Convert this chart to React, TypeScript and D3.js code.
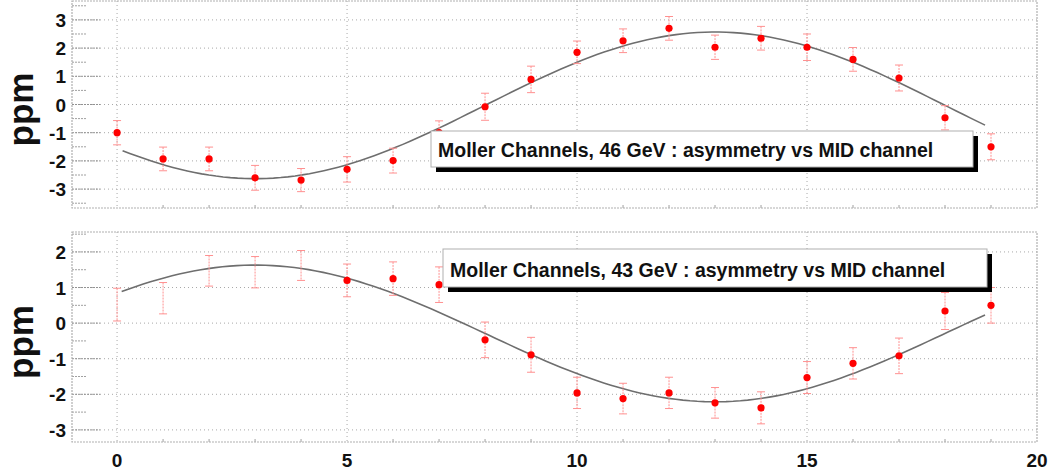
import React from "react";
import * as d3 from "d3";

// Channel numbers (x) shared by both panels
const channels = [0, 1, 2, 3, 4, 5, 6, 7, 8, 9, 10, 11, 12, 13, 14, 15, 16, 17, 18, 19];

// 46 GeV asymmetry per MID channel (ppm) and errors
const asym46 = [-1.0, -1.93, -1.93, -2.6, -2.68, -2.3, -1.99, -1.0, -0.08, 0.89, 1.85, 2.26, 2.7, 2.03, 2.35, 2.03, 1.6, 0.94, -0.47, -1.5];
const err46 = [0.43, 0.42, 0.42, 0.44, 0.41, 0.45, 0.44, 0.42, 0.48, 0.47, 0.4, 0.42, 0.42, 0.43, 0.42, 0.47, 0.42, 0.46, 0.43, 0.46];

// 43 GeV asymmetry per MID channel (ppm) and errors
const asym43 = [0.52, 0.7, 1.47, 1.43, 1.62, 1.2, 1.25, 1.08, -0.47, -0.89, -1.96, -2.12, -1.96, -2.24, -2.38, -1.53, -1.13, -0.92, 0.34, 0.5];
const err43 = [0.46, 0.44, 0.43, 0.44, 0.42, 0.46, 0.47, 0.5, 0.5, 0.49, 0.44, 0.43, 0.44, 0.43, 0.45, 0.45, 0.44, 0.5, 0.52, 0.5];
// channels whose marker is not drawn (only the error bar shows)
const noMarker43 = [0, 1, 2, 3, 4];

// Sine fits: f(x) = offset + amp * cos(2*pi*(x - peak)/period)
const fit46 = { offset: -0.03, amp: -2.6, peak: 3.0, period: 20, from: 0.12, to: 18.87 };
const fit43 = { offset: -0.29, amp: 1.92, peak: 3.0, period: 20, from: 0.1, to: 18.87 };

const xTicks = [0, 5, 10, 15, 20];
const yTicks46 = [-3, -2, -1, 0, 1, 2, 3];
const yTicks43 = [-3, -2, -1, 0, 1, 2];

const title46 = "Moller Channels, 46 GeV : asymmetry vs MID channel";
const title43 = "Moller Channels, 43 GeV : asymmetry vs MID channel";

const W = 1052;
const H = 475;
const FONT = "'Liberation Sans', Helvetica, Arial, sans-serif";

const xScale = d3.scaleLinear().domain([-0.98, 20]).range([72, 1037]);

type PanelProps = {
  top: number;
  bottom: number;
  domain: [number, number];
  yTicks: number[];
  values: number[];
  errors: number[];
  hidden: number[];
  fit: { offset: number; amp: number; peak: number; period: number; from: number; to: number };
  title: string;
  box: { x0: number; x1: number; y0: number; y1: number };
  showXLabels: boolean;
};

function Panel(p: PanelProps) {
  const y = d3.scaleLinear().domain(p.domain).range([p.bottom, p.top]);
  const x0 = xScale.range()[0];
  const x1 = xScale.range()[1];
  const gridColor = "#a8a8a8";

  const minorY = d3.range(Math.ceil(p.domain[0] * 2) / 2, p.domain[1], 0.5).filter((v) => Math.abs(v - Math.round(v)) > 0.01);
  const minorX = d3.range(0, 20, 1).filter((v) => v % 5 !== 0);

  const fitPts = d3.range(0, 121).map((i) => {
    const xv = p.fit.from + ((p.fit.to - p.fit.from) * i) / 120;
    return [xv, p.fit.offset + p.fit.amp * Math.cos((2 * Math.PI * (xv - p.fit.peak)) / p.fit.period)] as [number, number];
  });
  const line = d3
    .line<[number, number]>()
    .x((d) => xScale(d[0]))
    .y((d) => y(d[1]));

  const yMid = (p.top + p.bottom) / 2;

  return (
    <g>
      {/* grid */}
      {p.yTicks.map((t) => (
        <line key={"gy" + t} x1={x0} x2={x1} y1={y(t)} y2={y(t)} stroke={gridColor} strokeWidth={1} strokeDasharray="1,3" />
      ))}
      {xTicks.filter((t) => t < 20).map((t) => (
        <line key={"gx" + t} x1={xScale(t)} x2={xScale(t)} y1={p.top} y2={p.bottom} stroke={gridColor} strokeWidth={1} strokeDasharray="1,3" />
      ))}
      {/* major and minor y ticks */}
      {p.yTicks.map((t) => (
        <line key={"ty" + t} x1={x0} x2={x0 + 28} y1={y(t)} y2={y(t)} stroke="#929292" strokeWidth={1} strokeDasharray="2,1" />
      ))}
      {minorY.map((t) => (
        <line key={"my" + t} x1={x0} x2={x0 + 14} y1={y(t)} y2={y(t)} stroke="#a0a0a0" strokeWidth={1} strokeDasharray="2,1" />
      ))}
      {minorX.map((t) => (
        <line key={"mx" + t} x1={xScale(t)} x2={xScale(t)} y1={p.bottom} y2={p.bottom - 3} stroke="#a0a0a0" strokeWidth={1} />
      ))}
      {/* frame */}
      <rect x={x0} y={p.top} width={x1 - x0} height={p.bottom - p.top} fill="none" stroke="#b0b0b0" strokeWidth={1.2} strokeDasharray="2,1" />
      {/* y tick labels */}
      {p.yTicks.map((t) => (
        <text key={"ly" + t} x={66} y={y(t) + 7} textAnchor="end" fontFamily={FONT} fontWeight="bold" fontSize={19} fill="#111">
          {t}
        </text>
      ))}
      <text transform={`translate(33,${yMid + 5}) rotate(-90)`} textAnchor="middle" fontFamily={FONT} fontWeight="bold" fontSize={35} fill="#111">
        ppm
      </text>
      {p.showXLabels &&
        xTicks.map((t) => (
          <text key={"lx" + t} x={xScale(t)} y={467} textAnchor="middle" fontFamily={FONT} fontWeight="bold" fontSize={19} fill="#111">
            {t}
          </text>
        ))}
      {/* fit curve */}
      <path d={line(fitPts) || ""} fill="none" stroke="#6e6e6e" strokeWidth={1.6} />
      {/* error bars */}
      {channels.map((c, i) => {
        const cx = xScale(c);
        const ya = y(p.values[i] + p.errors[i]);
        const yb = y(p.values[i] - p.errors[i]);
        return (
          <g key={"e" + c} stroke="#ff9090" strokeWidth={1}>
            <line x1={cx} x2={cx} y1={ya} y2={yb} strokeDasharray="2,1" />
            <line x1={cx - 4} x2={cx + 4} y1={ya} y2={ya} />
            <line x1={cx - 4} x2={cx + 4} y1={yb} y2={yb} />
          </g>
        );
      })}
      {/* markers */}
      {channels
        .filter((c) => !p.hidden.includes(c))
        .map((c) => (
          <circle key={"m" + c} cx={xScale(c)} cy={y(p.values[channels.indexOf(c)])} r={3.6} fill="#ff0000" />
        ))}
      {/* title pave with shadow */}
      <rect x={p.box.x0 + 5} y={p.box.y0 + 5} width={p.box.x1 - p.box.x0} height={p.box.y1 - p.box.y0} fill="#000" />
      <rect x={p.box.x0} y={p.box.y0} width={p.box.x1 - p.box.x0} height={p.box.y1 - p.box.y0} fill="#fff" stroke="#b0b0b0" strokeWidth={1} />
      <text x={p.box.x0 + 7} y={p.box.y1 - 10} fontFamily={FONT} fontWeight="bold" fontSize={19.5} fill="#111">
        {p.title}
      </text>
    </g>
  );
}

export default function App() {
  return (
    <svg width={W} height={H} style={{ position: "absolute", left: 0, top: 0, background: "#fff" }}>
      <rect x={0} y={0} width={W} height={H} fill="#fff" />
      <Panel
        top={1}
        bottom={208}
        domain={[-3.67, 3.67]}
        yTicks={yTicks46}
        values={asym46}
        errors={err46}
        hidden={[]}
        fit={fit46}
        title={title46}
        box={{ x0: 431, x1: 973, y0: 131, y1: 167 }}
        showXLabels={false}
      />
      <Panel
        top={232}
        bottom={442}
        domain={[-3.34, 2.56]}
        yTicks={yTicks43}
        values={asym43}
        errors={err43}
        hidden={noMarker43}
        fit={fit43}
        title={title43}
        box={{ x0: 443, x1: 987, y0: 249, y1: 287 }}
        showXLabels={true}
      />
    </svg>
  );
}
